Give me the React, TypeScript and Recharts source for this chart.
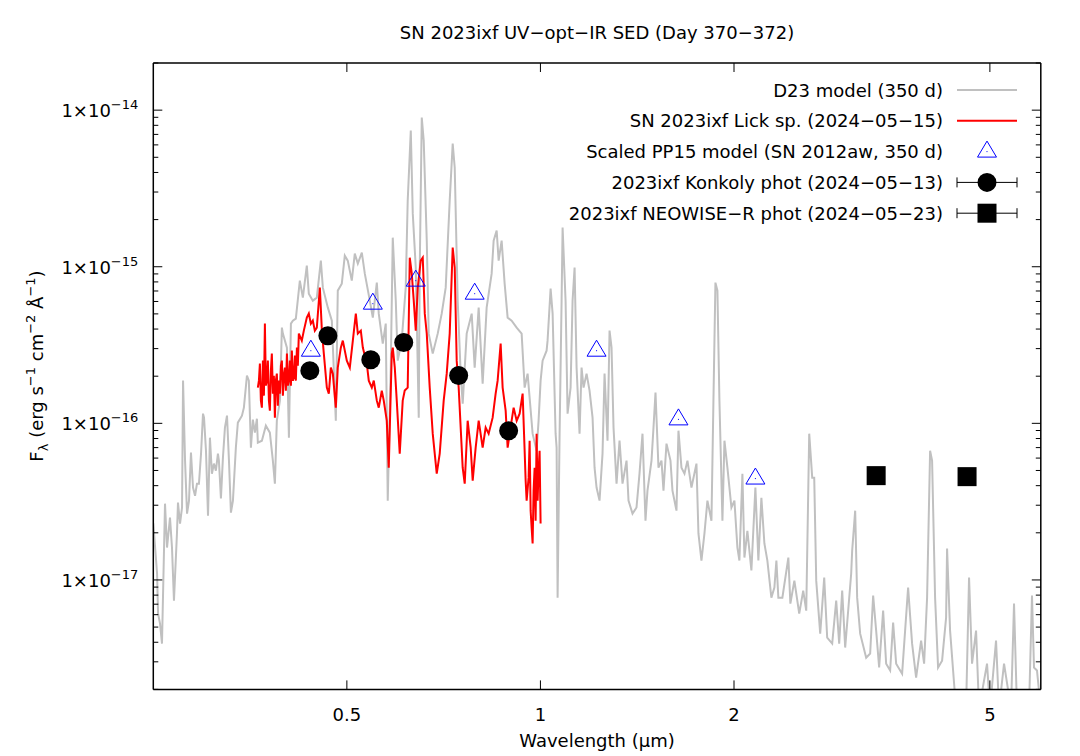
import React from 'react';
import { ComposedChart, Line, Scatter, XAxis, YAxis } from 'recharts';

const FONT = '"DejaVu Sans", sans-serif';

// all fluxes below are F_lambda in units of 1e-16 erg s^-1 cm^-2 A^-1, wavelengths in micron
const FLUX_UNIT = 1e-16;

// D23 model spectrum (350 d), [wavelength, flux]
const d23Spectrum: [number, number][] = [
  [0.2500, 0.23], [0.2534, 0.110], [0.2543, 0.0609], [0.2561, 0.0526], [0.2579, 0.0392],
  [0.2607, 0.307], [0.2626, 0.161], [0.2654, 0.250], [0.2673, 0.161], [0.2692, 0.0738],
  [0.2721, 0.198], [0.2731, 0.312], [0.2751, 0.229], [0.2771, 0.290], [0.2781, 1.874],
  [0.2801, 0.578], [0.2821, 0.265], [0.2841, 0.321], [0.2861, 0.650], [0.2882, 0.389],
  [0.2903, 0.345], [0.2923, 0.412], [0.2944, 0.412], [0.2966, 0.641], [0.2987, 1.153],
  [0.2998, 1.087], [0.3019, 0.669], [0.3041, 0.257], [0.3062, 0.810], [0.3084, 0.477],
  [0.3106, 0.553], [0.3128, 0.499], [0.3151, 0.641], [0.3162, 0.578], [0.3185, 0.331],
  [0.3208, 0.604], [0.3231, 0.939], [0.3255, 1.120], [0.3278, 0.578], [0.3301, 0.269],
  [0.3325, 0.321], [0.3360, 0.700], [0.3384, 1.010], [0.3434, 1.120], [0.3458, 1.260],
  [0.3496, 2.016], [0.3520, 1.874], [0.3546, 0.700], [0.3571, 1.056], [0.3597, 0.872],
  [0.3623, 1.071], [0.3635, 0.753], [0.3688, 0.775], [0.3741, 0.966], [0.3795, 0.872],
  [0.3836, 0.578], [0.3864, 0.412], [0.3891, 1.040], [0.3934, 1.396], [0.3962, 4.085],
  [0.3976, 3.740], [0.4034, 3.045], [0.4063, 0.810], [0.4092, 4.332], [0.4121, 4.527],
  [0.4165, 4.663], [0.4225, 8.152], [0.4271, 6.350], [0.4332, 10.17], [0.4363, 6.734],
  [0.4426, 6.074], [0.4490, 6.350], [0.4555, 10.94], [0.4588, 7.356], [0.4671, 5.481],
  [0.4738, 4.527], [0.4806, 1.040], [0.4840, 7.037], [0.4910, 7.801], [0.4963, 11.77],
  [0.5016, 10.94], [0.5089, 8.152], [0.5144, 12.12], [0.5200, 10.47], [0.5275, 12.30],
  [0.5332, 9.037], [0.5428, 6.074], [0.5487, 4.732], [0.5566, 7.916], [0.5605, 5.018],
  [0.5686, 3.229], [0.5747, 4.332], [0.5788, 0.321], [0.5851, 2.269], [0.5893, 15.34],
  [0.5957, 6.074], [0.5999, 2.514], [0.6085, 3.374], [0.6173, 7.356], [0.6217, 26.42],
  [0.6286, 73.98], [0.6331, 21.83], [0.6399, 9.872], [0.6468, 1.087], [0.6491, 9.872],
  [0.6538, 89.58], [0.6584, 63.86], [0.6656, 14.68], [0.6703, 3.740], [0.6800, 2.787],
  [0.6922, 3.740], [0.7022, 5.018], [0.7123, 7.356], [0.7226, 26.42], [0.7304, 61.11],
  [0.7357, 42.95], [0.7436, 6.074], [0.7516, 2.077], [0.7570, 1.336], [0.7679, 3.740],
  [0.7818, 5.018], [0.7902, 2.269], [0.8016, 5.481], [0.8131, 1.793], [0.8248, 5.481],
  [0.8397, 9.037], [0.8457, 14.68], [0.8549, 17.00], [0.8610, 10.94], [0.8703, 14.68],
  [0.8797, 7.801], [0.8892, 4.732], [0.9020, 4.527], [0.9184, 4.085], [0.9349, 3.740],
  [0.9450, 1.691], [0.9551, 2.077], [0.9724, 0.859], [0.9864, 0.669], [0.9934, 1.040],
  [1.0006, 1.874], [1.0078, 2.514], [1.0223, 2.912], [1.0259, 3.374], [1.0371, 7.249],
  [1.0446, 5.018], [1.0558, 0.859], [1.0596, 0.700], [1.0634, 0.0771], [1.0710, 0.859],
  [1.0787, 6.074], [1.0826, 17.78], [1.0942, 6.074], [1.1021, 1.153], [1.1140, 1.691],
  [1.1220, 6.074], [1.1301, 9.872], [1.1382, 2.269], [1.1504, 0.859], [1.1587, 2.269],
  [1.1670, 1.691], [1.1796, 2.077], [1.1923, 1.618], [1.2052, 1.087], [1.2139, 0.521],
  [1.2226, 0.389], [1.2357, 0.321], [1.2490, 0.641], [1.2581, 2.077], [1.2715, 0.775],
  [1.2808, 3.908], [1.2900, 3.045], [1.2992, 0.939], [1.3133, 0.412], [1.3274, 0.775],
  [1.3417, 0.412], [1.3611, 0.578], [1.3708, 0.321], [1.3906, 0.265], [1.4106, 0.290],
  [1.4258, 0.477], [1.4412, 0.859], [1.4567, 0.239], [1.4671, 0.372], [1.4884, 0.578],
  [1.4991, 0.939], [1.5099, 1.571], [1.5261, 0.521], [1.5426, 0.578], [1.5537, 0.372],
  [1.5705, 0.742], [1.5931, 0.578], [1.6045, 0.372], [1.6277, 0.277], [1.6393, 0.898],
  [1.6570, 0.521], [1.6750, 0.477], [1.6929, 0.578], [1.7174, 0.389], [1.7484, 0.553],
  [1.7609, 0.198], [1.7799, 0.133], [1.7992, 0.198], [1.8184, 0.321], [1.8448, 0.239],
  [1.8580, 1.396], [1.8713, 7.916], [1.8847, 7.037], [1.8983, 1.396], [1.9188, 0.239],
  [1.9327, 0.775], [1.9534, 0.521], [1.9816, 0.290], [2.0030, 0.321], [2.0245, 0.161],
  [2.0391, 0.133], [2.0611, 0.477], [2.0760, 0.139], [2.0982, 0.206], [2.1285, 0.115],
  [2.1592, 0.389], [2.1824, 0.133], [2.2061, 0.335], [2.2299, 0.171], [2.2538, 0.133],
  [2.2864, 0.0771], [2.3112, 0.0893], [2.3278, 0.133], [2.3443, 0.0771], [2.3782, 0.0771],
  [2.4297, 0.139], [2.4473, 0.0706], [2.4826, 0.0990], [2.5262, 0.0609], [2.5626, 0.0855],
  [2.5904, 0.0637], [2.6182, 0.859], [2.6465, 0.450], [2.6656, 0.450], [2.6847, 0.0990],
  [2.7233, 0.0454], [2.7626, 0.1035], [2.7922, 0.0428], [2.8428, 0.0392], [2.8838, 0.0738],
  [2.9148, 0.0392], [2.9463, 0.0855], [2.9781, 0.0370], [3.0428, 0.110], [3.0536, 0.154],
  [3.0866, 0.277], [3.1086, 0.0771], [3.1423, 0.0454], [3.2105, 0.0319], [3.2567, 0.0339],
  [3.2917, 0.0794], [3.3274, 0.0475], [3.3632, 0.0276], [3.4116, 0.0637], [3.4486, 0.0292],
  [3.4982, 0.0264], [3.5359, 0.0534], [3.5743, 0.0292], [3.6516, 0.0252], [3.7307, 0.0893],
  [3.7846, 0.0392], [3.8393, 0.0238], [3.9085, 0.0410], [3.9508, 0.0292], [3.9931, 0.0771],
  [4.0364, 0.669], [4.0653, 0.578], [4.1092, 0.0771], [4.1534, 0.0276], [4.2134, 0.0305],
  [4.2743, 0.0575], [4.2893, 0.1585], [4.3358, 0.0475], [4.3984, 0.0218], [4.4299, 0.015],
  [4.5913, 0.015], [4.6406, 0.1035], [4.6907, 0.0292], [4.7585, 0.0475], [4.8096, 0.015],
  [4.9491, 0.0292], [5.0027, 0.015], [5.1114, 0.0410], [5.1664, 0.015], [5.2599, 0.0292],
  [5.3930, 0.015], [5.4514, 0.0706], [5.5098, 0.015], [5.7517, 0.015], [5.8138, 0.0794],
  [5.8558, 0.0276], [5.9185, 0.0264], [6.0, 0.015],
];

// SN 2023ixf Lick spectrum (2024-05-15), [wavelength, flux]
const lickSpectrum: [number, number][] = [
  [0.3635, 1.691], [0.3649, 1.874], [0.3662, 2.406], [0.3675, 1.396], [0.3688, 1.260],
  [0.3702, 2.514], [0.3715, 1.503], [0.3728, 4.332], [0.3741, 1.741], [0.3755, 1.874],
  [0.3768, 2.514], [0.3782, 1.396], [0.3795, 1.205], [0.3809, 2.170], [0.3822, 2.787],
  [0.3836, 1.548], [0.3850, 2.016], [0.3864, 1.087], [0.3877, 1.874], [0.3891, 2.077],
  [0.3905, 1.297], [0.3919, 1.874], [0.3934, 1.548], [0.3948, 2.336], [0.3962, 2.514],
  [0.3976, 1.503], [0.3990, 2.016], [0.4005, 2.269], [0.4019, 1.618], [0.4034, 2.787],
  [0.4048, 1.741], [0.4063, 1.874], [0.4077, 2.514], [0.4092, 1.741], [0.4106, 2.912],
  [0.4121, 1.874], [0.4136, 1.958], [0.4151, 2.706], [0.4165, 1.874], [0.4181, 3.045],
  [0.4195, 2.336], [0.4210, 3.740], [0.4255, 3.374], [0.4286, 3.908], [0.4332, 4.732],
  [0.4363, 5.018], [0.4395, 4.332], [0.4426, 4.527], [0.4458, 3.908], [0.4490, 4.085],
  [0.4539, 7.356], [0.4572, 3.908], [0.4604, 2.787], [0.4654, 1.691], [0.4687, 1.548],
  [0.4721, 2.269], [0.4755, 2.077], [0.4806, 1.260], [0.4840, 2.269], [0.4893, 3.045],
  [0.4928, 3.374], [0.4999, 2.514], [0.5053, 2.269], [0.5108, 3.374], [0.5163, 5.018],
  [0.5200, 3.740], [0.5256, 3.908], [0.5294, 3.045], [0.5370, 2.406], [0.5408, 1.874],
  [0.5467, 1.691], [0.5506, 1.874], [0.5566, 1.396], [0.5605, 1.260], [0.5666, 1.618],
  [0.5706, 1.396], [0.5768, 1.040], [0.5809, 0.521], [0.5872, 2.787], [0.5893, 3.045],
  [0.5936, 2.269], [0.5978, 1.396], [0.6042, 0.641], [0.6107, 1.396], [0.6151, 1.618],
  [0.6217, 1.691], [0.6263, 11.43], [0.6308, 9.037], [0.6353, 6.074], [0.6399, 3.908],
  [0.6445, 7.356], [0.6514, 10.94], [0.6561, 11.43], [0.6609, 5.018], [0.6656, 3.740],
  [0.6727, 1.691], [0.6800, 0.859], [0.6898, 0.477], [0.6972, 0.641], [0.7072, 1.396],
  [0.7149, 2.077], [0.7226, 3.740], [0.7304, 13.25], [0.7357, 9.872], [0.7409, 2.514],
  [0.7462, 1.691], [0.7570, 0.521], [0.7625, 0.412], [0.7706, 1.040], [0.7790, 0.700],
  [0.7846, 0.431], [0.7930, 0.700], [0.8016, 1.040], [0.8131, 0.700], [0.8219, 0.939],
  [0.8307, 0.859], [0.8427, 1.087], [0.8518, 1.548], [0.8579, 1.874], [0.8672, 3.229],
  [0.8734, 1.691], [0.8829, 1.205], [0.8892, 0.700], [0.9020, 1.040], [0.9085, 1.260],
  [0.9184, 1.040], [0.9282, 1.153], [0.9382, 1.548], [0.9450, 0.669], [0.9484, 0.431],
  [0.9518, 0.321], [0.9585, 0.450], [0.9620, 0.775], [0.9655, 0.277], [0.9689, 0.216],
  [0.9724, 0.171], [0.9758, 0.372], [0.9794, 0.521], [0.9829, 0.239], [0.9864, 0.859],
  [0.9899, 0.321], [0.9934, 0.499], [0.9970, 0.669], [1.0006, 0.229],
];

// Scaled PP15 model (SN 2012aw, 350 d)
const pp15Wave = [0.4395, 0.5487, 0.6399, 0.7902, 1.2226, 1.6393, 2.1592];
const pp15Flux = [2.91, 5.81, 8.15, 6.73, 2.91, 1.06, 0.444];

// Konkoly photometry (2024-05-13)
const konkolyWave = [0.4379, 0.4671, 0.5447, 0.6129, 0.7462, 0.8924];
const konkolyFlux = [2.17, 3.63, 2.55, 3.28, 2.02, 0.898];

// NEOWISE-R photometry (2024-05-23)
const neowiseWave = [3.3274, 4.6075];
const neowiseFlux = [0.4635, 0.4567];

const xTicks = [0.5, 1, 2, 5];
const yDecades = [-18, -17, -16, -15, -14];
const yMantissas = [1, 2, 3, 4, 5, 6, 7, 8, 9];
const X_DOMAIN = [0.25, 6];
const Y_DOMAIN = [2e-18, 2e-14];

const legendLabels = [
  'D23 model (350 d)',
  'SN 2023ixf Lick sp. (2024\u221205\u221215)',
  'Scaled PP15 model (SN 2012aw, 350 d)',
  '2023ixf Konkoly phot (2024\u221205\u221213)',
  '2023ixf NEOWISE\u2212R phot (2024\u221205\u221223)',
];

const spectrumRows = (pts: [number, number][]) => pts.map(([x, f]) => ({ x, f: f * FLUX_UNIT }));
const photRows = (w: number[], f: number[]) => w.map((x, i) => ({ x, f: f[i] * FLUX_UNIT }));

const yTicks = yDecades
  .flatMap((e) => yMantissas.map((m) => m * Math.pow(10, e)))
  .filter((v) => v >= Y_DOMAIN[0] * 0.999 && v <= Y_DOMAIN[1] * 1.001);

const renderXTick = (side: 'bottom' | 'top') => (props: any) => {
  const { x, y, payload } = props;
  const dir = side === 'bottom' ? -1 : 1;
  return (
    <g>
      <line x1={x} y1={y} x2={x} y2={y + dir * 9} stroke="#000" strokeWidth={1} />
      {side === 'bottom' && (
        <text x={x} y={y + 32} textAnchor="middle" fontFamily={FONT} fontSize={18} fill="#000">
          {payload.value}
        </text>
      )}
    </g>
  );
};

const renderYTick = (side: 'left' | 'right') => (props: any) => {
  const { x, y, payload } = props;
  const v = payload.value;
  const e = Math.round(Math.log10(v));
  const major = Math.abs(v / Math.pow(10, e) - 1) < 1e-6;
  const dir = side === 'left' ? 1 : -1;
  return (
    <g>
      <line x1={x} y1={y} x2={x + dir * (major ? 9 : 5)} y2={y} stroke="#000" strokeWidth={1} />
      {major && side === 'left' && (
        <text x={x - 15} y={y + 7} textAnchor="end" fontFamily={FONT} fontSize={18} fill="#000">
          1×10
          <tspan dy={-8} fontSize={13}>{`\u2212${Math.abs(e)}`}</tspan>
        </text>
      )}
    </g>
  );
};

const TriangleMark = ({ cx, cy }: any) => (
  <g>
    <polygon
      points={`${cx},${cy - 10.5} ${cx + 9.5},${cy + 5.5} ${cx - 9.5},${cy + 5.5}`}
      fill="none"
      stroke="#0000ff"
      strokeWidth={1}
    />
    <rect x={cx - 0.5} y={cy - 0.5} width={1} height={1} fill="#0000ff" />
  </g>
);
const CircleMark = ({ cx, cy }: any) => <circle cx={cx} cy={cy} r={9.5} fill="#000" />;
const SquareMark = ({ cx, cy }: any) => <rect x={cx - 9.5} y={cy - 9.5} width={19} height={19} fill="#000" />;

const Overlay = () => {
  const rowY = (i: number) => 90 + i * 30.8;
  const textEnd = 943;
  const s0 = 957;
  const s1 = 1017;
  const sc = (s0 + s1) / 2;
  return (
    <svg
      width={1080}
      height={756}
      style={{ position: 'absolute', left: 0, top: 0, pointerEvents: 'none' }}
      fontFamily={FONT}
    >
      <text x={597} y={39} textAnchor="middle" fontSize={18} fill="#000">
        SN 2023ixf UV{'\u2212'}opt{'\u2212'}IR SED (Day 370{'\u2212'}372)
      </text>
      <text x={597} y={747} textAnchor="middle" fontSize={18} fill="#000">
        Wavelength (µm)
      </text>
      <text transform="translate(43,366) rotate(-90)" textAnchor="middle" fontSize={18} fill="#000">
        F<tspan dy={5} fontSize={13}>λ</tspan>
        <tspan dy={-5}> (erg s</tspan>
        <tspan dy={-8} fontSize={13}>{'\u2212'}1</tspan>
        <tspan dy={8}> cm</tspan>
        <tspan dy={-8} fontSize={13}>{'\u2212'}2</tspan>
        <tspan dy={8}> Å</tspan>
        <tspan dy={-8} fontSize={13}>{'\u2212'}1</tspan>
        <tspan dy={8}>)</tspan>
      </text>
      {legendLabels.map((label, i) => (
        <text key={label} x={textEnd} y={rowY(i) + 6.5} textAnchor="end" fontSize={18} fill="#000">
          {label}
        </text>
      ))}
      <line x1={s0} x2={s1} y1={rowY(0)} y2={rowY(0)} stroke="#c0c0c0" strokeWidth={2} />
      <line x1={s0} x2={s1} y1={rowY(1)} y2={rowY(1)} stroke="#ff0000" strokeWidth={2} />
      <TriangleMark cx={sc} cy={rowY(2)} />
      {[3, 4].map((i) => (
        <g key={i}>
          <line x1={s0} x2={s1} y1={rowY(i)} y2={rowY(i)} stroke="#000" strokeWidth={1} />
          <line x1={s0} x2={s0} y1={rowY(i) - 5} y2={rowY(i) + 5} stroke="#000" strokeWidth={1} />
          <line x1={s1} x2={s1} y1={rowY(i) - 5} y2={rowY(i) + 5} stroke="#000" strokeWidth={1} />
          {i === 3 ? <CircleMark cx={sc} cy={rowY(i)} /> : <SquareMark cx={sc} cy={rowY(i)} />}
        </g>
      ))}
    </svg>
  );
};

export default function App() {
  const axisLine = { stroke: '#000', strokeWidth: 1.5 };
  return (
    <div style={{ position: 'absolute', left: 0, top: 0, width: 1080, height: 756, background: '#fff' }}>
      <ComposedChart width={1080} height={756} margin={{ top: 62, right: 38.2, bottom: 6.6, left: 93.3 }}>
        <XAxis
          dataKey="x"
          type="number"
          scale="log"
          domain={X_DOMAIN}
          allowDataOverflow
          ticks={xTicks}
          interval={0}
          height={60}
          tickSize={0}
          tickMargin={0}
          axisLine={axisLine}
          tick={renderXTick('bottom')}
        />
        <XAxis
          xAxisId="top"
          dataKey="x"
          orientation="top"
          type="number"
          scale="log"
          domain={X_DOMAIN}
          allowDataOverflow
          ticks={xTicks}
          interval={0}
          height={1}
          tickSize={0}
          tickMargin={0}
          axisLine={axisLine}
          tick={renderXTick('top')}
        />
        <YAxis
          type="number"
          scale="log"
          domain={Y_DOMAIN}
          allowDataOverflow
          ticks={yTicks}
          interval={0}
          width={60}
          tickSize={0}
          tickMargin={0}
          axisLine={axisLine}
          tick={renderYTick('left')}
        />
        <YAxis
          yAxisId="right"
          orientation="right"
          type="number"
          scale="log"
          domain={Y_DOMAIN}
          allowDataOverflow
          ticks={yTicks}
          interval={0}
          width={1}
          tickSize={0}
          tickMargin={0}
          axisLine={axisLine}
          tick={renderYTick('right')}
        />
        <Line
          data={spectrumRows(d23Spectrum)}
          dataKey="f"
          type="linear"
          stroke="#c0c0c0"
          strokeWidth={2}
          dot={false}
          isAnimationActive={false}
        />
        <Line
          data={spectrumRows(lickSpectrum)}
          dataKey="f"
          type="linear"
          stroke="#ff0000"
          strokeWidth={2}
          dot={false}
          isAnimationActive={false}
        />
        <Scatter data={photRows(pp15Wave, pp15Flux)} dataKey="f" shape={TriangleMark} isAnimationActive={false} />
        <Scatter data={photRows(konkolyWave, konkolyFlux)} dataKey="f" shape={CircleMark} isAnimationActive={false} />
        <Scatter
          data={photRows(neowiseWave, neowiseFlux)}
          dataKey="f"
          xAxisId="top"
          yAxisId="right"
          shape={SquareMark}
          isAnimationActive={false}
        />
      </ComposedChart>
      <Overlay />
    </div>
  );
}
